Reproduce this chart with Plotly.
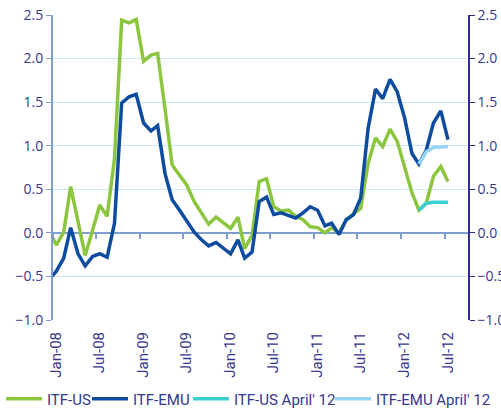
import plotly.graph_objects as go

# Monthly observations (mid-month), Dec-07 .. Jul-12
start_year, start_month = 2007, 12
itf_us = [0.03, -0.14, 0.01, 0.53, 0.13, -0.26, 0.03, 0.32, 0.19, 0.85, 2.44, 2.41, 2.45,
          1.97, 2.04, 2.06, 1.42, 0.78, 0.66, 0.55, 0.36, 0.22, 0.10, 0.18, 0.11,
          0.05, 0.18, -0.18, -0.03, 0.59, 0.62, 0.30, 0.25, 0.26, 0.19, 0.15, 0.07,
          0.06, 0.00, 0.06, 0.00, 0.15, 0.22, 0.28, 0.80, 1.09, 0.99, 1.19, 1.05,
          0.75, 0.46, 0.26, 0.34, 0.65, 0.76, 0.59]
itf_emu = [-0.54, -0.44, -0.29, 0.06, -0.24, -0.38, -0.27, -0.24, -0.28, 0.11, 1.49, 1.56, 1.59,
           1.26, 1.17, 1.23, 0.68, 0.38, 0.26, 0.13, 0.01, -0.08, -0.15, -0.11, -0.17,
           -0.24, -0.08, -0.29, -0.22, 0.36, 0.41, 0.21, 0.23, 0.20, 0.17, 0.23, 0.30,
           0.26, 0.08, 0.11, -0.02, 0.15, 0.21, 0.40, 1.20, 1.65, 1.54, 1.76, 1.62,
           1.32, 0.91, 0.79, 0.95, 1.26, 1.40, 1.07]
# April '12 vintage, Mar-12 .. Jul-12
april_months = ["2012-03-15", "2012-04-15", "2012-05-15", "2012-06-15", "2012-07-15"]
itf_us_apr = [0.26, 0.34, 0.35, 0.35, 0.35]
itf_emu_apr = [0.79, 0.93, 0.98, 0.99, 0.99]

def month_dates(n, y, m):
    out = []
    for _ in range(n):
        out.append(f"{y}-{m:02d}-15")
        m += 1
        if m > 12:
            m = 1
            y += 1
    return out

dates = month_dates(len(itf_us), start_year, start_month)

GREEN = "#8cc63e"
BLUE = "#0d4c9f"
CYAN = "#3ccfcf"
LIGHT = "#94d4f2"
TXT = "#36368f"
AXL = "#7f9fcf"
GRID = "#c9e8f6"
FONT = "Open Sans"
LFONT = "Roboto"

W, H = 501, 412
ML, MR, MT, MB = 53, 33, 15, 92
PW = W - ML - MR
PH = H - MT - MB

def px_to_paper_x(p):
    return (p - ML) / PW

def py_to_paper_y(p):
    return (H - MB - p) / PH

fig = go.Figure()
fig.add_trace(go.Scatter(x=dates, y=itf_us, name="ITF-US", mode="lines",
                         line=dict(color=GREEN, width=3.5), legend="legend"))
fig.add_trace(go.Scatter(x=dates, y=itf_emu, name="ITF-EMU", mode="lines",
                         line=dict(color=BLUE, width=3.5), legend="legend2"))
fig.add_trace(go.Scatter(x=april_months, y=itf_us_apr, name="ITF-US April' 12", mode="lines",
                         line=dict(color=CYAN, width=3.5), legend="legend3"))
fig.add_trace(go.Scatter(x=april_months, y=itf_emu_apr, name="ITF-EMU April' 12", mode="lines",
                         line=dict(color=LIGHT, width=3.5), yaxis="y2", legend="legend4"))
# tick marks along the zero line
fig.add_trace(go.Scatter(x=[None], y=[None], xaxis="x2", showlegend=False, hoverinfo="skip"))

xr = ["2008-01-01", "2012-10-07"]
leg_common = dict(orientation="h", xanchor="left", yanchor="middle", y=py_to_paper_y(399),
                  font=dict(size=15, color=TXT, family=LFONT), bgcolor="rgba(0,0,0,0)",
                  itemwidth=36, borderwidth=0)
fig.update_layout(
    width=W, height=H,
    margin=dict(l=ML, r=MR, t=MT, b=MB, autoexpand=False),
    paper_bgcolor="white", plot_bgcolor="white",
    font=dict(family=FONT, color=TXT, size=13),
    xaxis=dict(range=xr, type="date", tick0="2008-01-01", dtick="M6", tickformat="%b-%y",
               tickangle=-90, ticks="", showgrid=False, showline=False, zeroline=False,
               tickfont=dict(size=15, color=TXT, family=LFONT), ticklabelstandoff=8,
               ticklabelshift=3, automargin=False),
    xaxis2=dict(range=xr, type="date", tick0="2008-01-01", dtick="M6", overlaying="x",
                anchor="free", position=1/3.5, showticklabels=False, ticks="outside",
                ticklen=5, tickcolor=AXL, tickwidth=1.5, showgrid=False, showline=False,
                zeroline=False, automargin=False),
    yaxis=dict(range=[-1.0, 2.5], dtick=0.5, tickformat=".1f", showgrid=True, gridcolor=GRID,
               gridwidth=1, zeroline=True, zerolinecolor=AXL, zerolinewidth=2,
               showline=True, linecolor=AXL, linewidth=2, ticks="outside", ticklen=5,
               tickcolor=AXL, tickfont=dict(size=14, color=TXT), automargin=False),
    yaxis2=dict(range=[-1.0, 2.5], dtick=0.5, tickformat=".1f", overlaying="y", side="right",
                showgrid=False, zeroline=False, showline=True, linecolor="#2e2e86",
                linewidth=1.5, ticks="outside", ticklen=5, tickcolor="#2e2e86",
                tickfont=dict(size=14, color=TXT), automargin=False),
    legend=dict(x=px_to_paper_x(1), **leg_common),
    legend2=dict(x=px_to_paper_x(87), **leg_common),
    legend3=dict(x=px_to_paper_x(188), **leg_common),
    legend4=dict(x=px_to_paper_x(330), **leg_common),
    showlegend=True,
)
fig.write_html("out.html", config={"displayModeBar": False},
               post_script="document.body.style.margin='0';document.body.style.overflow='hidden';")
